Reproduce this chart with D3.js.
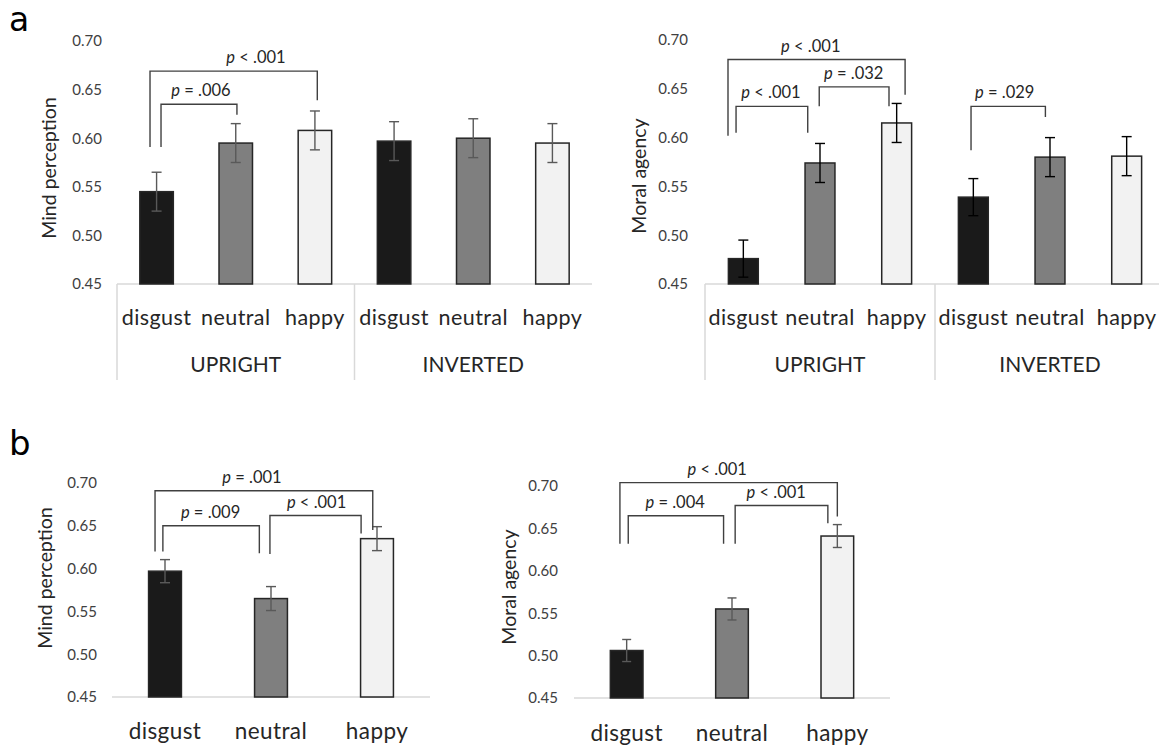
<!DOCTYPE html>
<html>
<head>
<meta charset="utf-8">
<script src="https://cdn.jsdelivr.net/npm/d3@7"></script>
<style>
body { margin: 0; background: #fff; }
svg { display: block; font-family: Lato, "Open Sans", sans-serif; }
</style>
</head>
<body>
<svg id="fig" width="1159" height="749"></svg>
<script>
// ---- data ----
var yTicks = [0.45, 0.50, 0.55, 0.60, 0.65, 0.70];
var emotions = ["disgust", "neutral", "happy"];
var orientations = ["UPRIGHT", "INVERTED"];

// panel a: upright disgust/neutral/happy, then inverted disgust/neutral/happy
var mindA = [0.545, 0.595, 0.608, 0.597, 0.600, 0.595];
var mindAErr = [0.020, 0.020, 0.020, 0.020, 0.020, 0.020];
var moralA = [0.476, 0.574, 0.615, 0.539, 0.580, 0.581];
var moralAErr = [0.019, 0.020, 0.020, 0.019, 0.020, 0.020];

// panel b
var mindB = [0.597, 0.565, 0.635];
var mindBErr = [0.0135, 0.014, 0.014];
var moralB = [0.506, 0.555, 0.641];
var moralBErr = [0.013, 0.013, 0.0135];

// significance brackets: from/to = category position, top / left / right in y units
var mindABrackets = [
	{from: 0.056, to: 1.015, top: 0.635, left: 0.591, right: 0.624, at: 0.56, p: "= .006"},
	{from: -0.083, to: 2.03, top: 0.669, left: 0.591, right: 0.639, at: 1.255, p: "< .001"}
];
var moralABrackets = [
	{from: -0.095, to: 0.84, top: 0.632, left: 0.605, right: 0.605, at: 0.36, p: "< .001"},
	{from: 0.99, to: 1.90, top: 0.652, left: 0.632, right: 0.632, at: 1.44, p: "= .032"},
	{from: -0.2, to: 2.11, top: 0.680, left: 0.602, right: 0.644, at: 0.88, p: "< .001"},
	{from: 2.97, to: 3.94, top: 0.632, left: 0.587, right: 0.621, at: 3.41, p: "= .029"}
];
var mindBBrackets = [
	{from: -0.02, to: 0.89, top: 0.650, left: 0.620, right: 0.618, at: 0.43, p: "= .009"},
	{from: 0.99, to: 1.85, top: 0.662, left: 0.617, right: 0.641, at: 1.43, p: "< .001"},
	{from: -0.094, to: 1.96, top: 0.691, left: 0.620, right: 0.645, at: 0.82, p: "= .001"}
];
var moralBBrackets = [
	{from: 0.015, to: 0.92, top: 0.665, left: 0.632, right: 0.632, at: 0.46, p: "= .004"},
	{from: 1.03, to: 1.91, top: 0.677, left: 0.632, right: 0.656, at: 1.42, p: "< .001"},
	{from: -0.064, to: 2.0, top: 0.704, left: 0.632, right: 0.664, at: 0.86, p: "< .001"}
];

var fills = {disgust: "#1a1a1a", neutral: "#7f7f7f", happy: "#f2f2f2"};

var svg = d3.select("#fig");

var drawPanel = function(cfg){
	var n = cfg.values.length;
	var cats = d3.range(n).map(i => emotions[i % emotions.length]);

	var yScale = d3.scaleLinear()
					.domain([yTicks[0], yTicks[yTicks.length - 1]])
					.range([cfg.bottom, cfg.top]);

	var xBand = d3.scaleBand()
					.domain(d3.range(n))
					.range([cfg.x0, cfg.x1])
					.paddingInner(cfg.pad)
					.paddingOuter(cfg.pad / 2);

	var bw = xBand.bandwidth();
	var pos = d3.scaleLinear()
					.domain([0, n - 1])
					.range([xBand(0) + bw / 2, xBand(n - 1) + bw / 2]);

	var g = svg.append('g');

	// y axis labels only
	var yAxis = d3.axisLeft(yScale)
					.tickValues(yTicks)
					.tickFormat(d3.format('.2f'))
					.tickSize(0)
					.tickPadding(0);

	g.append('g')
		.attr('transform', 'translate(' + cfg.tickRight + ',0)')
		.call(yAxis)
		.call(a => a.select('.domain').remove())
		.selectAll('text')
		.attr('font-size', 15)
		.attr('font-family', 'Lato, "Open Sans", sans-serif')
		.attr('fill', '#404040');

	g.append('text')
		.attr('transform', 'translate(' + cfg.titleX + ',' + cfg.titleY + ') rotate(-90)')
		.attr('text-anchor', 'middle')
		.attr('dominant-baseline', 'central')
		.attr('font-size', 19.5)
		.attr('fill', '#262626')
		.text(cfg.title);

	// baseline
	g.append('line')
		.attr('x1', cfg.x0).attr('x2', cfg.x1)
		.attr('y1', cfg.bottom).attr('y2', cfg.bottom)
		.attr('stroke', '#d9d9d9')
		.attr('stroke-width', 1.5);

	// group dividers + labels
	if(cfg.groups){
		var gw = (cfg.x1 - cfg.x0) / cfg.groups.length;
		g.selectAll('.divider')
			.data(cfg.groups)
			.enter()
			.append('line')
			.attr('x1', (d, i) => cfg.x0 + i * gw)
			.attr('x2', (d, i) => cfg.x0 + i * gw)
			.attr('y1', cfg.bottom)
			.attr('y2', cfg.dividerEnd)
			.attr('stroke', '#d9d9d9')
			.attr('stroke-width', 1.5);

		g.selectAll('.group')
			.data(cfg.groups)
			.enter()
			.append('text')
			.attr('x', (d, i) => cfg.x0 + (i + 0.5) * gw)
			.attr('y', cfg.groupY)
			.attr('text-anchor', 'middle')
			.attr('dominant-baseline', 'central')
			.attr('font-size', 21)
			.attr('fill', '#262626')
			.text(d => d);
	}

	// bars
	g.selectAll('.bar')
		.data(cfg.values)
		.enter()
		.append('rect')
		.attr('x', (d, i) => xBand(i))
		.attr('y', d => yScale(d))
		.attr('width', bw)
		.attr('height', d => cfg.bottom - yScale(d))
		.attr('fill', (d, i) => fills[cats[i]])
		.attr('stroke', '#262626')
		.attr('stroke-width', 1.5);

	// error bars
	var eb = g.selectAll('.err')
				.data(cfg.values)
				.enter()
				.append('g')
				.attr('stroke', cfg.errColor)
				.attr('stroke-width', 1.4);

	eb.append('line')
		.attr('x1', (d, i) => pos(i)).attr('x2', (d, i) => pos(i))
		.attr('y1', (d, i) => yScale(d - cfg.errors[i]))
		.attr('y2', (d, i) => yScale(d + cfg.errors[i]));
	eb.append('line')
		.attr('x1', (d, i) => pos(i) - cfg.cap / 2).attr('x2', (d, i) => pos(i) + cfg.cap / 2)
		.attr('y1', (d, i) => yScale(d + cfg.errors[i]))
		.attr('y2', (d, i) => yScale(d + cfg.errors[i]));
	eb.append('line')
		.attr('x1', (d, i) => pos(i) - cfg.cap / 2).attr('x2', (d, i) => pos(i) + cfg.cap / 2)
		.attr('y1', (d, i) => yScale(d - cfg.errors[i]))
		.attr('y2', (d, i) => yScale(d - cfg.errors[i]));

	// category labels
	g.selectAll('.cat')
		.data(cats)
		.enter()
		.append('text')
		.attr('x', (d, i) => pos(i))
		.attr('y', cfg.catY)
		.attr('text-anchor', 'middle')
		.attr('dominant-baseline', 'central')
		.attr('font-size', cfg.catSize)
		.attr('letter-spacing', 0.4)
		.attr('fill', '#262626')
		.text(d => d);

	// significance brackets
	g.selectAll('.bracket')
		.data(cfg.brackets)
		.enter()
		.append('path')
		.attr('d', d => 'M' + pos(d.from) + ',' + yScale(d.left) +
						'V' + yScale(d.top) +
						'H' + pos(d.to) +
						'V' + yScale(d.right))
		.attr('fill', 'none')
		.attr('stroke', '#404040')
		.attr('stroke-width', 1.4);

	var lab = g.selectAll('.plabel')
				.data(cfg.brackets)
				.enter()
				.append('text')
				.attr('x', d => pos(d.at))
				.attr('y', d => yScale(d.top) - 8)
				.attr('text-anchor', 'middle')
				.attr('font-size', 16.5)
				.attr('fill', '#262626');
	lab.append('tspan').attr('font-style', 'italic').text('p');
	lab.append('tspan').text(d => ' ' + d.p);
};

drawPanel({
	values: mindA, errors: mindAErr, brackets: mindABrackets, groups: orientations,
	title: 'Mind perception',
	x0: 117, x1: 592, pad: 0.577, top: 41, bottom: 284,
	tickRight: 102, titleX: 48, titleY: 168,
	catY: 317, catSize: 21.5, groupY: 363, dividerEnd: 380,
	errColor: '#595959', cap: 10
});

drawPanel({
	values: moralA, errors: moralAErr, brackets: moralABrackets, groups: orientations,
	title: 'Moral agency',
	x0: 705, x1: 1165, pad: 0.61, top: 40, bottom: 284,
	tickRight: 688, titleX: 638, titleY: 176,
	catY: 317, catSize: 21.5, groupY: 363, dividerEnd: 380,
	errColor: '#000000', cap: 10
});

drawPanel({
	values: mindB, errors: mindBErr, brackets: mindBBrackets,
	title: 'Mind perception',
	x0: 112, x1: 430, pad: 0.69, top: 483, bottom: 697,
	tickRight: 97, titleX: 44, titleY: 578,
	catY: 730, catSize: 22.5,
	errColor: '#595959', cap: 10
});

drawPanel({
	values: moralB, errors: moralBErr, brackets: moralBBrackets,
	title: 'Moral agency',
	x0: 574, x1: 890, pad: 0.69, top: 486, bottom: 698,
	tickRight: 558, titleX: 508, titleY: 587,
	catY: 732, catSize: 22.5,
	errColor: '#595959', cap: 9
});

// panel letters
svg.append('text').attr('x', 9).attr('y', 31).attr('font-size', 33)
	.attr('font-family', '"DejaVu Sans", sans-serif').attr('fill', '#000').text('a');
svg.append('text').attr('x', 9).attr('y', 455).attr('font-size', 34)
	.attr('font-family', '"DejaVu Sans", sans-serif').attr('fill', '#000').text('b');
</script>
</body>
</html>
